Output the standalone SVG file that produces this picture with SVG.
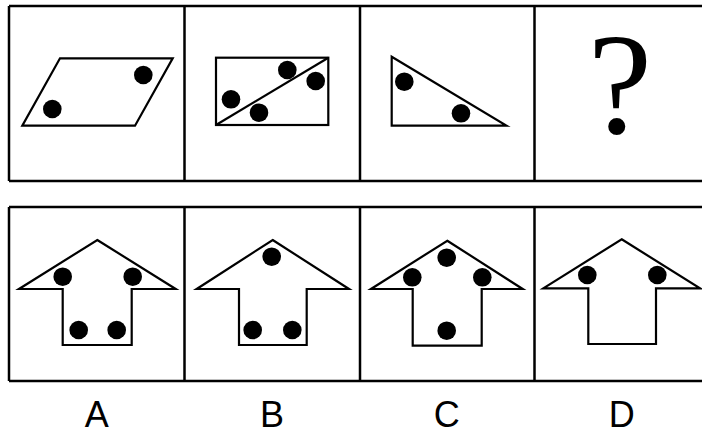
<svg xmlns="http://www.w3.org/2000/svg" width="702" height="437" viewBox="0 0 702 437">
<style>
.box{fill:none;stroke:#000;stroke-width:2.5}
.shape{fill:none;stroke:#000;stroke-width:2.2;stroke-linejoin:miter}
.dot{fill:#000}
.lbl{font-family:"Liberation Sans","DejaVu Sans",sans-serif;font-size:36px;fill:#000;text-anchor:middle}
.q{font-family:"Liberation Serif","DejaVu Serif",serif;font-size:145px;fill:#000;text-anchor:middle}
</style>
<rect width="702" height="437" fill="#fff"/>
<g id="grid-top">
<path class="box" d="M9,6 H710 M9,181 H710 M9,6 V181 M184.5,6 V181 M360,6 V181 M534.5,6 V181"/>
</g>
<g id="grid-bottom">
<path class="box" d="M9,207 H710 M9,381 H710 M9,207 V381 M184.5,207 V381 M360,207 V381 M534.5,207 V381"/>
</g>
<g id="fig1">
<polygon class="shape" points="60,58.3 172.7,58.3 135,125.7 22.3,125.7"/>
<circle class="dot" cx="143.3" cy="75" r="9.3"/>
<circle class="dot" cx="52.3" cy="109" r="9.3"/>
</g>
<g id="fig2">
<rect class="shape" x="216" y="57.7" width="112.3" height="67.3"/>
<line class="shape" x1="216" y1="125" x2="328.3" y2="57.7"/>
<circle class="dot" cx="287.3" cy="70" r="9.3"/>
<circle class="dot" cx="315.7" cy="81" r="9.3"/>
<circle class="dot" cx="231" cy="99.3" r="9.3"/>
<circle class="dot" cx="259" cy="112.7" r="9.3"/>
</g>
<g id="fig3">
<polygon class="shape" points="391.7,56.7 391.7,125.7 506.7,125.7"/>
<circle class="dot" cx="404.3" cy="81.7" r="9.3"/>
<circle class="dot" cx="461" cy="113.3" r="9.3"/>
</g>
<g id="fig4">
<text class="q" x="620" y="133">?</text>
</g>
<g id="optA">
<polygon class="shape" points="97.3,240 175.7,289 131.7,289 131.7,345 62.7,345 62.7,289 19,289"/>
<circle class="dot" cx="62.7" cy="276.7" r="9.3"/>
<circle class="dot" cx="132.7" cy="276.7" r="9.3"/>
<circle class="dot" cx="78.7" cy="330" r="9.3"/>
<circle class="dot" cx="116.7" cy="330" r="9.3"/>
<text class="lbl" x="96.7" y="427">A</text>
</g>
<g id="optB">
<polygon class="shape" points="272.7,240 349,289 306.7,289 306.7,345 239,345 239,289 196.7,289"/>
<circle class="dot" cx="271.7" cy="256.7" r="9.3"/>
<circle class="dot" cx="252.7" cy="330" r="9.3"/>
<circle class="dot" cx="292.3" cy="330" r="9.3"/>
<text class="lbl" x="272" y="427">B</text>
</g>
<g id="optC">
<polygon class="shape" points="447.3,240.7 522.7,289 481.7,289 481.7,345.7 412.7,345.7 412.7,289 371,289"/>
<circle class="dot" cx="446.7" cy="257.7" r="9.3"/>
<circle class="dot" cx="412.3" cy="277.3" r="9.3"/>
<circle class="dot" cx="482.3" cy="277.3" r="9.3"/>
<circle class="dot" cx="446.7" cy="330.7" r="9.3"/>
<text class="lbl" x="446.7" y="427">C</text>
</g>
<g id="optD">
<polygon class="shape" points="621.7,239.3 700,288.3 656,288.3 656,344 588.3,344 588.3,288.3 543.3,288.3"/>
<circle class="dot" cx="587.3" cy="275" r="9.3"/>
<circle class="dot" cx="657.3" cy="275" r="9.3"/>
<text class="lbl" x="621.7" y="427">D</text>
</g>
</svg>
